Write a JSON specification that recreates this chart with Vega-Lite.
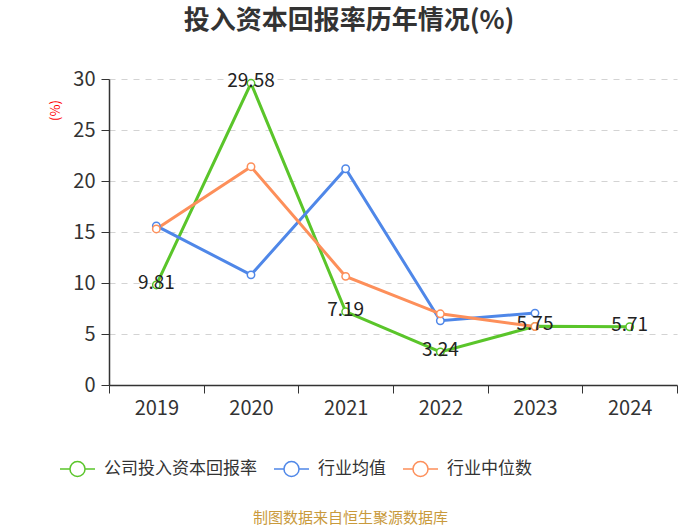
{
  "$schema": "https://vega.github.io/schema/vega-lite/v6.json",
  "autosize": "none",
  "width": 568,
  "height": 306,
  "padding": {"left": 109, "top": 79, "right": 23, "bottom": 140},
  "background": "white",
  "config": {"view": {"stroke": null}},
  "title": {
    "text": "投入资本回报率历年情况(%)",
    "font": "Noto Sans CJK SC",
    "fontSize": 26,
    "fontWeight": "bold",
    "color": "#333333",
    "anchor": "middle",
    "frame": "group",
    "dx": -44,
    "offset": 35
  },
  "data": {
    "values": [
      {"year": "2019", "series": "公司投入资本回报率", "value": 9.81},
      {"year": "2020", "series": "公司投入资本回报率", "value": 29.58},
      {"year": "2021", "series": "公司投入资本回报率", "value": 7.19},
      {"year": "2022", "series": "公司投入资本回报率", "value": 3.24},
      {"year": "2023", "series": "公司投入资本回报率", "value": 5.75},
      {"year": "2024", "series": "公司投入资本回报率", "value": 5.71},
      {"year": "2019", "series": "行业均值", "value": 15.6},
      {"year": "2020", "series": "行业均值", "value": 10.8},
      {"year": "2021", "series": "行业均值", "value": 21.2},
      {"year": "2022", "series": "行业均值", "value": 6.3},
      {"year": "2023", "series": "行业均值", "value": 7.05},
      {"year": "2019", "series": "行业中位数", "value": 15.3},
      {"year": "2020", "series": "行业中位数", "value": 21.4},
      {"year": "2021", "series": "行业中位数", "value": 10.65},
      {"year": "2022", "series": "行业中位数", "value": 6.98},
      {"year": "2023", "series": "行业中位数", "value": 5.73}
    ]
  },
  "encoding": {
    "x": {
      "field": "year",
      "type": "ordinal",
      "scale": {"type": "band", "paddingInner": 0, "paddingOuter": 0},
      "axis": {
        "title": "制图数据来自恒生聚源数据库",
        "titleFont": "Noto Sans CJK SC",
        "titleFontSize": 15,
        "titleFontWeight": "normal",
        "titleColor": "#c99a3c",
        "titleX": 241,
        "titleY": 132,
        "titleAlign": "center",
        "titleBaseline": "middle",
        "labelAngle": 0,
        "labelFont": "Noto Sans CJK SC",
        "labelFontSize": 20,
        "labelColor": "#333333",
        "labelPadding": 5,
        "tickBand": "extent",
        "tickSize": 8,
        "tickColor": "#333333",
        "domainColor": "#333333",
        "domainWidth": 1.5,
        "grid": false
      }
    },
    "y": {
      "field": "value",
      "type": "quantitative",
      "scale": {"domain": [0, 30]},
      "axis": {
        "title": "(%)",
        "titleFont": "Noto Sans CJK SC",
        "titleFontSize": 13,
        "titleFontWeight": "normal",
        "titleColor": "red",
        "titleX": -54,
        "titleY": 31,
        "titleAlign": "center",
        "titleBaseline": "middle",
        "values": [0, 5, 10, 15, 20, 25, 30],
        "labelFont": "Noto Sans CJK SC",
        "labelFontSize": 20,
        "labelColor": "#333333",
        "labelPadding": 6,
        "tickSize": 8,
        "tickColor": "#333333",
        "domainColor": "#333333",
        "domainWidth": 1.5,
        "grid": true,
        "gridColor": "#d3d3d3",
        "gridDash": [6, 6],
        "gridWidth": 1
      }
    },
    "color": {
      "field": "series",
      "type": "nominal",
      "sort": ["公司投入资本回报率", "行业均值", "行业中位数"],
      "scale": {
        "domain": ["公司投入资本回报率", "行业均值", "行业中位数"],
        "range": ["#5ac52a", "#4f87e8", "#fd8f5a"]
      },
      "legend": {
        "title": null,
        "orient": "none",
        "direction": "horizontal",
        "legendX": -50,
        "legendY": 371,
        "symbolType": "M-1,0H-0.43M0.43,0H1M0.43,0A0.43,0.43,0,1,1,-0.43,0A0.43,0.43,0,1,1,0.43,0Z",
        "symbolSize": 1225,
        "symbolStrokeWidth": 1.5,
        "symbolFillColor": "white",
        "labelFont": "Noto Sans CJK SC",
        "labelFontSize": 17,
        "labelColor": "#333333",
        "labelLimit": 0,
        "labelOffset": 8,
        "columnPadding": 14
      }
    }
  },
  "layer": [
    {
      "mark": {"type": "line", "strokeWidth": 3}
    },
    {
      "mark": {"type": "point", "filled": false, "fill": "white", "size": 55, "strokeWidth": 1.5, "opacity": 1}
    },
    {
      "transform": [{"filter": "datum.series === '公司投入资本回报率'"}],
      "mark": {
        "type": "text",
        "font": "Noto Sans CJK SC",
        "fontSize": 19,
        "color": "#222222",
        "baseline": "middle",
        "dy": -2
      },
      "encoding": {
        "text": {"field": "value", "type": "quantitative", "format": ".2f"},
        "color": {"value": "#222222"}
      }
    }
  ]
}
